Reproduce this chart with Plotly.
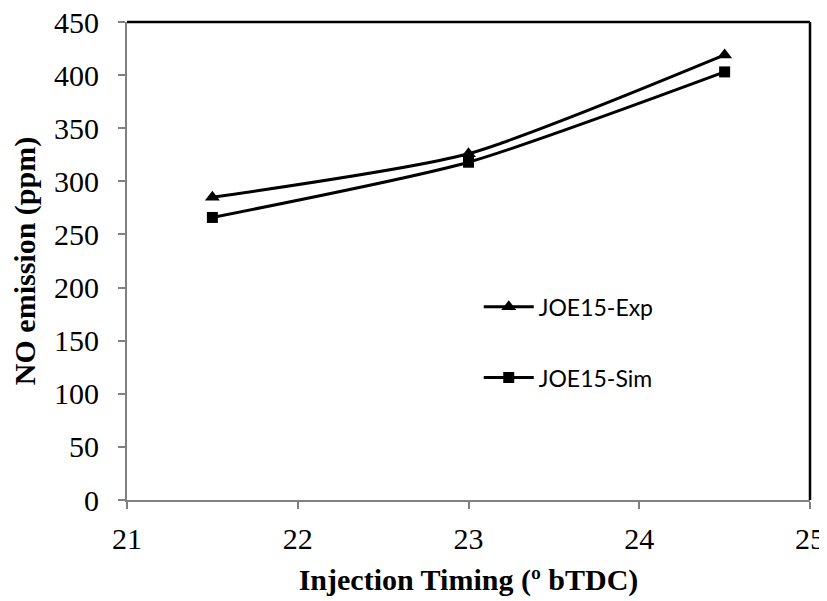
import plotly.graph_objects as go

timing = [21.5, 23, 24.5]
exp_no = [285, 326, 419]
sim_no = [266, 318, 403]
x_ticks = [21, 22, 23, 24, 25]
y_ticks = [0, 50, 100, 150, 200, 250, 300, 350, 400, 450]

fig = go.Figure()
fig.add_trace(go.Scatter(x=timing, y=exp_no, name="JOE15-Exp", mode="lines+markers",
                         line=dict(color="black", width=3, shape="spline", smoothing=0.6),
                         marker=dict(symbol="triangle-up", size=13, color="black"),
                         legendgroup="a"))
fig.add_trace(go.Scatter(x=timing, y=sim_no, name="JOE15-Sim", mode="lines+markers",
                         line=dict(color="black", width=3, shape="spline", smoothing=0.6),
                         marker=dict(symbol="square", size=11, color="black"),
                         legendgroup="b"))

axis_font = dict(family="Liberation Serif, Times New Roman, serif", size=30, color="black")
title_font = dict(family="Liberation Serif, Times New Roman, serif", size=30, color="black")

# page body has an 8px margin, so the figure is shrunk and offset accordingly
fig.update_layout(
    width=819, height=593,
    margin=dict(l=119, r=17, t=14, b=101),
    paper_bgcolor="white", plot_bgcolor="white",
    showlegend=True,
    legend=dict(x=0.515, y=0.33, xanchor="left", yanchor="middle",
                font=dict(family="Lato, Open Sans, sans-serif", size=23, color="black"),
                tracegroupgap=38, itemwidth=50, bgcolor="rgba(0,0,0,0)"),
    xaxis=dict(range=[21, 25], tickvals=x_ticks, showgrid=False, zeroline=False,
               automargin=False, ticklabeloverflow="allow",
               showline=True, linecolor="#808080", linewidth=2,
               ticks="outside", ticklen=7, tickwidth=2, tickcolor="#808080",
               tickfont=axis_font, ticklabelstandoff=4,
               title=dict(text="<b>Injection Timing (º bTDC)</b>", font=title_font, standoff=15)),
    yaxis=dict(range=[0, 450], tickvals=y_ticks, showgrid=False, zeroline=False,
               automargin=False, ticklabeloverflow="allow",
               showline=True, linecolor="#808080", linewidth=2,
               ticks="outside", ticklen=7, tickwidth=2, tickcolor="#808080",
               tickfont=axis_font, ticklabelstandoff=13,
               title=dict(text="<b>NO emission (ppm)</b>", font=title_font, standoff=17)),
)
fig.add_shape(type="line", xref="paper", yref="paper", x0=0, x1=1, y0=1, y1=1,
              line=dict(color="black", width=2.5))
fig.add_shape(type="line", xref="paper", yref="paper", x0=1, x1=1, y0=0, y1=1,
              line=dict(color="black", width=2.5))

fig.write_html("out.html")
